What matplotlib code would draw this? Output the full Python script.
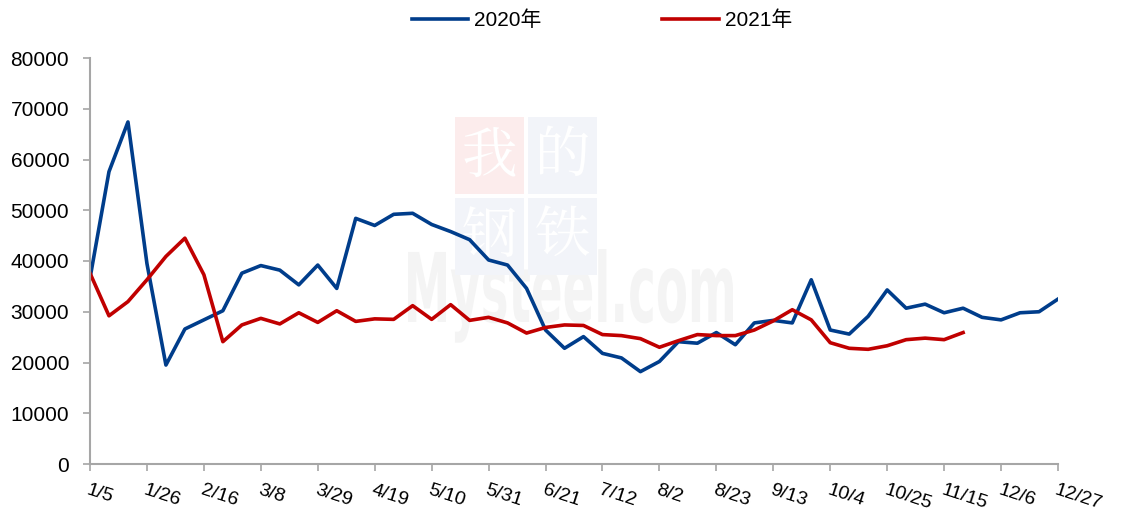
import numpy as np
import matplotlib.pyplot as plt
from matplotlib.patches import Rectangle, PathPatch
from matplotlib.textpath import TextPath
from matplotlib.font_manager import FontProperties
from matplotlib.transforms import Affine2D

plt.rcParams['font.family'] = ['Liberation Sans', 'Noto Sans CJK SC', 'DejaVu Sans']

# weekly data, 52 weeks (1/5 .. 12/27)
tick_labels = ["1/5", "1/26", "2/16", "3/8", "3/29", "4/19", "5/10", "5/31", "6/21",
               "7/12", "8/2", "8/23", "9/13", "10/4", "10/25", "11/15", "12/6", "12/27"]

y2020 = [36600, 57600, 67400, 39500, 19500, 26600, 28400, 30200, 37600, 39100,
         38200, 35300, 39200, 34600, 48400, 47000, 49200, 49400, 47200, 45800,
         44200, 40200, 39200, 34600, 26400, 22800, 25100, 21800, 20900, 18200,
         20200, 24100, 23800, 25900, 23500, 27800, 28300, 27800, 36300, 26400,
         25600, 29100, 34300, 30700, 31500, 29800, 30700, 28900, 28400, 29800,
         30000, 32500]

y2021 = [37600, 29200, 32000, 36300, 40900, 44500, 37300, 24100, 27400, 28700,
         27600, 29800, 27900, 30200, 28100, 28600, 28500, 31200, 28500, 31400,
         28300, 28900, 27800, 25800, 26900, 27400, 27300, 25500, 25300, 24700,
         23000, 24300, 25500, 25300, 25300, 26400, 28200, 30400, 28400, 23900,
         22800, 22600, 23300, 24500, 24800, 24500, 25900]

blue = "#003d8b"
red = "#c00000"
gray = "#a6a6a6"

fig = plt.figure(figsize=(11.28, 5.13), dpi=100)
ax = fig.add_axes([90/1128, 49/513, 968/1128, 406/513])

# watermark (pixel coords, y down)
wm = fig.add_axes([0, 0, 1, 1], zorder=-1)
wm.set_xlim(0, 1128)
wm.set_ylim(513, 0)
wm.axis("off")
tp = TextPath((0, 0), "Mysteel.com", size=1,
              prop=FontProperties(family="DejaVu Sans", weight="bold"))
ext = tp.get_extents()
sx = 325 / ext.width
sy = 70 / 0.729
tr = Affine2D().translate(-ext.x0, 0).scale(sx, -sy).translate(408, 322)
wm.add_patch(PathPatch(tr.transform_path(tp), color="#f4f4f4", lw=0))
boxes = [(455, 117, "#fcecec", "我"), (528, 117, "#f2f4f9", "的"),
         (455, 198, "#f2f4f9", "钢"), (528, 198, "#f2f4f9", "铁")]
for bx, by, bc, ch in boxes:
    wm.add_patch(Rectangle((bx, by), 69, 77, color=bc, lw=0))
    wm.text(bx + 34.5, by + 40, ch, ha="center", va="center", color="white",
            fontsize=40, family=["Noto Serif CJK SC", "Noto Sans CJK SC"])

x20 = np.arange(len(y2020))
x21 = np.arange(len(y2021))
ax.plot(x20, y2020, color=blue, lw=2.6, label="2020年", solid_joinstyle="round")
ax.plot(x21, y2021, color=red, lw=2.6, label="2021年", solid_joinstyle="round")

ax.set_xlim(0, 51)
ax.set_ylim(0, 80000)
ax.set_yticks(np.arange(0, 80001, 10000))
ax.set_xticks(np.arange(0, 52, 3))
ax.set_xticklabels(tick_labels, rotation=-18, ha="left", va="top",
                   rotation_mode="anchor", fontsize=14)
ax.tick_params(axis="y", labelsize=15, color=gray, length=5, width=1.2, pad=10)
ax.tick_params(axis="x", color=gray, length=5, width=1.2, pad=8)
for s in ["top", "right"]:
    ax.spines[s].set_visible(False)
for s in ["left", "bottom"]:
    ax.spines[s].set_color(gray)
    ax.spines[s].set_linewidth(1.5)
ax.patch.set_alpha(0)

fig.legend(loc="center", bbox_to_anchor=(602/1128, 1 - 20/513), ncol=2,
           frameon=False, fontsize=15, handlelength=2.7, columnspacing=5.8,
           handletextpad=0.3)

fig.savefig("out.png", dpi=100)
